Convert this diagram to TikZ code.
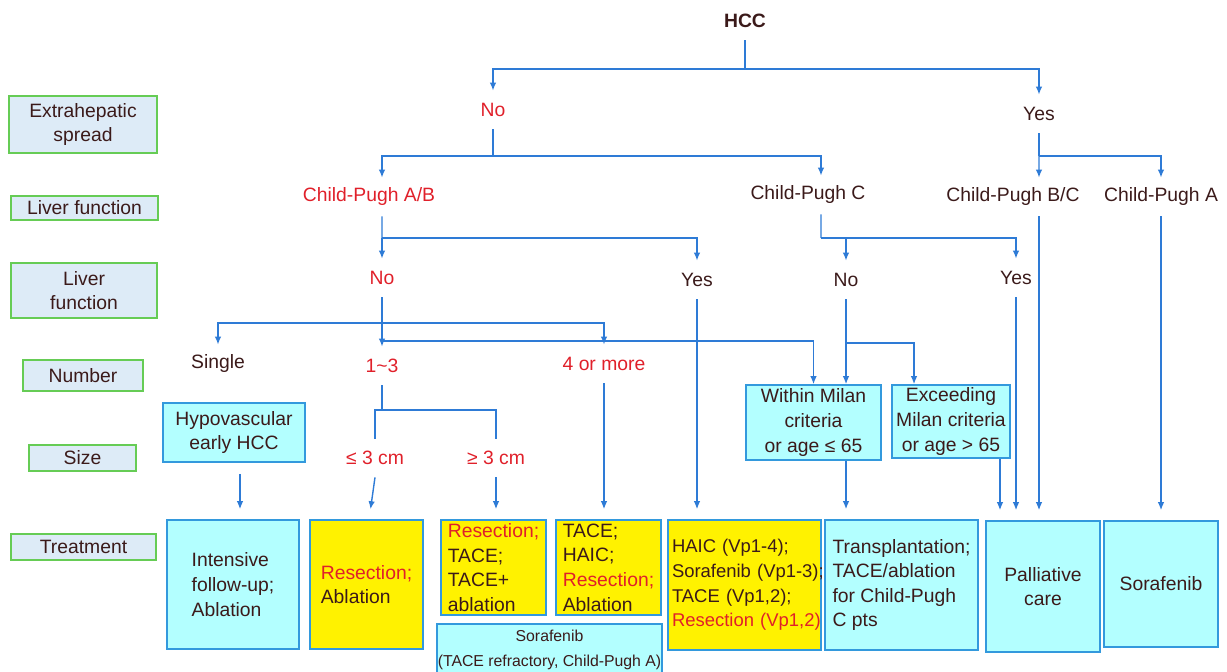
\documentclass[tikz,border=0pt]{standalone}
\usepackage{fontspec}
\setmainfont{Liberation Sans}
\usetikzlibrary{arrows.meta}
\usepackage{xcolor}

\definecolor{linkblue}{RGB}{46,123,214}
\definecolor{boxcyan}{RGB}{179,255,255}
\definecolor{boxedge}{RGB}{51,153,221}
\definecolor{labfill}{RGB}{221,235,247}
\definecolor{labedge}{RGB}{102,204,85}
\definecolor{txt}{RGB}{59,26,26}
\definecolor{redtxt}{RGB}{224,32,42}

\begin{document}
\begin{tikzpicture}[
    x=0.02cm, y=-0.02cm,
    font=\fontsize{11}{14}\selectfont, text=txt,
    dec/.style={inner sep=0pt, minimum height=0.76cm},
    decr/.style={dec, text=redtxt},
    lab/.style={draw=labedge, fill=labfill, line width=0.9pt, align=center, inner sep=0pt},
    tbox/.style={draw=boxedge, fill=boxcyan, line width=0.9pt, align=center, inner sep=0pt},
    ybox/.style={tbox, fill=yellow},
    link/.style={draw=linkblue, line width=0.8pt},
    arr/.style={link, -{Latex[length=1.6mm,width=1.3mm]}},
    gap/.style={shorten >=0.2cm}
  ]
    \useasboundingbox (0,0) rectangle (1227,672);

    % row labels
    \node[lab, minimum width=2.96cm, minimum height=1.14cm] (lspread) at (83,124.5) {Extrahepatic\\spread};
    \node[lab, minimum width=2.94cm, minimum height=0.48cm] (lliver) at (84.5,208) {Liver function};
    \node[lab, minimum width=2.92cm, minimum height=1.10cm] (lliver2) at (84,290.5) {Liver\\function};
    \node[lab, minimum width=2.40cm, minimum height=0.62cm] (lnumber) at (83,375.5) {Number};
    \node[lab, minimum width=2.14cm, minimum height=0.52cm] (lsize) at (82.5,458) {Size};
    \node[lab, minimum width=2.90cm, minimum height=0.52cm] (ltreat) at (83.5,547) {Treatment};

    % decisions
    \node[dec, font=\fontsize{11}{14}\selectfont\bfseries] (hcc) at (745,21) {HCC};
    \node[decr] (no1) at (493,110) {No};
    \node[dec] (yes1) at (1039,114) {Yes};
    \node[decr] (cpab) at (369,197) {Child-Pugh A/B};
    \node[dec] (cpc) at (808,195) {Child-Pugh C};
    \node[dec] (cpbc) at (1013,197) {Child-Pugh B/C};
    \node[dec] (cpa) at (1161,197) {Child-Pugh A};
    \node[decr] (no2) at (382,278) {No};
    \node[dec] (yes2) at (697,280) {Yes};
    \node[dec] (no3) at (846,280) {No};
    \node[dec] (yes3) at (1016,278) {Yes};
    \node[dec] (single) at (218,364) {Single};
    \node[decr] (n13) at (382,366) {1\textasciitilde3};
    \node[decr] (more4) at (604,364) {4 or more};
    \node[decr] (le3) at (375,458) {≤ 3 cm};
    \node[decr] (ge3) at (496,458) {≥ 3 cm};

    % middle boxes
    \node[tbox, minimum width=2.84cm, minimum height=1.18cm] (hypo) at (234,432.5) {Hypovascular\\early HCC};
    \node[tbox, minimum width=2.70cm, minimum height=1.50cm] (within) at (813.5,422.5) {Within Milan\\criteria\\or age ≤ 65};
    \node[tbox, minimum width=2.36cm, minimum height=1.46cm] (exceed) at (951,421.5) {Exceeding\\Milan criteria\\or age > 65};

    % treatments
    \node[tbox, align=left, minimum width=2.64cm, minimum height=2.58cm] (t1) at (233,584.5) {Intensive\\follow-up;\\Ablation};
    \node[ybox, align=left, minimum width=2.26cm, minimum height=2.58cm] (t2) at (366.5,584.5) {\textcolor{redtxt}{Resection;}\\Ablation};
    \node[ybox, align=left, minimum width=2.10cm, minimum height=1.90cm] (t3) at (493.5,567.5) {\textcolor{redtxt}{Resection;}\\TACE;\\TACE+\\ablation};
    \node[ybox, align=left, minimum width=2.10cm, minimum height=1.90cm] (t4) at (608.5,567.5) {TACE;\\HAIC;\\\textcolor{redtxt}{Resection;}\\Ablation};
    \node[tbox, align=left, minimum width=3.06cm, minimum height=2.60cm] (t6) at (901.5,585) {Transplantation;\\TACE/ablation\\for Child-Pugh\\C pts};
    \node[ybox, align=left, text width=2.90cm, inner xsep=0.08cm, minimum height=2.60cm, font=\fontsize{10.5}{14}\selectfont] (t5) at (744.5,585) {\mbox{HAIC (Vp1-4);}\\\mbox{Sorafenib (Vp1-3);}\\\mbox{TACE (Vp1,2);}\\\mbox{\textcolor{redtxt}{Resection (Vp1,2)}}};
    \node[tbox, minimum width=2.28cm, minimum height=2.62cm] (t7) at (1043,586.5) {Palliative\\care};
    \node[tbox, minimum width=2.28cm, minimum height=2.52cm] (t8) at (1161,584) {Sorafenib};
    \node[tbox, minimum width=4.50cm, minimum height=1.04cm, font=\fontsize{9}{14}\selectfont] (sorw) at (549.5,650) {Sorafenib\\(TACE refractory, Child-Pugh A)};

    % branch points
    \coordinate (r1) at (745,69);
    \coordinate (r2) at (493,156);
    \coordinate (r3) at (1039,156);
    \coordinate (r4) at (382,238);
    \coordinate (r5) at (821,238);
    \coordinate (r6) at (382,323);
    \coordinate (r7) at (382,341);
    \coordinate (r8) at (846,343);
    \coordinate (r9) at (382,410);
    \coordinate (cpabin) at ([xshift=0.26cm]cpab.north);
    \coordinate (cpabout) at ([xshift=0.26cm]cpab.south);
    \coordinate (cpcin) at ([xshift=0.26cm]cpc.north);
    \coordinate (cpcout) at ([xshift=0.26cm]cpc.south);
    \coordinate (cpbcin) at ([xshift=0.52cm]cpbc.north);
    \coordinate (cpbcout) at ([xshift=0.52cm]cpbc.south);
    \coordinate (exin) at ([xshift=-0.74cm]exceed.north);
    \coordinate (exout) at ([xshift=0.98cm]exceed.south);
    \coordinate (hypoout) at ([xshift=0.12cm]hypo.south);
    \coordinate (t2in) at ([xshift=0.08cm,yshift=0.2cm]t2.north);

    % connectors
    \draw[link] (hcc.south) -- (r1);
    \draw[arr] (r1) -| (no1.north);
    \draw[arr] (r1) -| (yes1.north);
    \draw[link] (no1.south) -- (r2);
    \draw[arr] (r2) -| (cpabin);
    \draw[arr] (r2) -| (cpcin);
    \draw[link] (yes1.south) -- (r3);
    \draw[arr] (r3) -- (cpbcin);
    \draw[arr] (r3) -| (cpa.north);
    \draw[link] (cpabout) -- (r4);
    \draw[arr] (r4) -- (no2.north);
    \draw[arr] (r4) -| (yes2.north);
    \draw[link] (cpcout) -- (r5);
    \draw[arr] (r5) -| (no3.north);
    \draw[arr] (r5) -| (yes3.north);
    \draw[arr] (no2.south) -- (n13.north);
    \draw[arr] (r6) -| (single.north);
    \draw[arr] (r6) -| (more4.north);
    \draw[arr] (r7) -| (within.north);
    \draw[arr] (no3.south) -- (no3.south |- within.north);
    \draw[arr] (r8) -| (exin);
    \draw[link] (n13.south) -- (r9);
    \draw[link] (r9) -| (le3.north);
    \draw[link] (r9) -| (ge3.north);
    \draw[arr] (le3.south) -- (t2in);
    \draw[arr, gap] (ge3.south) -- (ge3.south |- t3.north);
    \draw[arr, gap] (more4.south) -- (more4.south |- t4.north);
    \draw[arr, gap, shorten <=0.22cm] (hypoout) -- (hypoout |- t1.north);
    \draw[arr, gap] (yes2.south) -- (yes2.south |- t5.north);
    \draw[arr, gap] (no3.south |- within.south) -- (no3.south |- t6.north);
    \draw[arr, gap] (exout) -- (exout |- t7.north);
    \draw[arr, gap] (yes3.south) -- (yes3.south |- t7.north);
    \draw[arr, gap] (cpbcout) -- (cpbcout |- t7.north);
    \draw[arr, gap] (cpa.south) -- (cpa.south |- t8.north);
  \end{tikzpicture}
\end{document}
